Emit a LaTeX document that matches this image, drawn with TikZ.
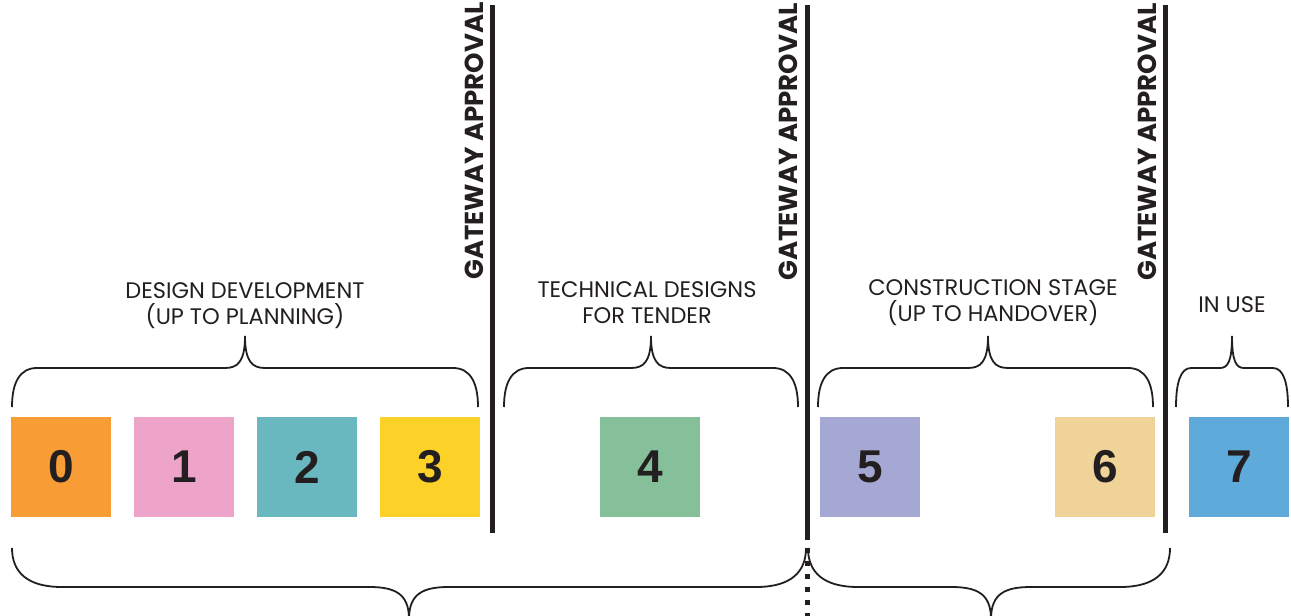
\documentclass[tikz,border=0pt]{standalone}
\usepackage{fontspec}
\newfontfamily\labelfont{Poppins}
\newfontfamily\numfont{Liberation Sans}
\usetikzlibrary{positioning}
\definecolor{inkdark}{HTML}{231F20}
\definecolor{stage0}{HTML}{F89D35}
\definecolor{stage1}{HTML}{EEA3C8}
\definecolor{stage2}{HTML}{69B8BF}
\definecolor{stage3}{HTML}{FDD228}
\definecolor{stage4}{HTML}{85C09A}
\definecolor{stage5}{HTML}{A6A8D4}
\definecolor{stage6}{HTML}{F0D398}
\definecolor{stage7}{HTML}{5DAADB}
\tikzset{
  stagebox/.style = {rectangle, inner sep=0pt, outer sep=0pt, minimum size=100pt, text=inkdark, font=\numfont\bfseries\fontsize{46}{46}\selectfont},
  stagelabel/.style = {align=center, inner sep=0pt, text=inkdark, font=\labelfont\fontsize{22.5}{26}\selectfont},
  gateline/.style = {draw=inkdark, line width=5pt},
  gatedots/.style = {gateline, dash pattern=on 5pt off 8pt},
  gatetext/.style = {rotate=90, anchor=base, inner sep=0pt, text=inkdark, font=\labelfont\bfseries\fontsize{26}{26}\selectfont},
  bracepath/.style = {draw=inkdark, line width=1.8pt},
  pics/phasebrace/.style n args = {4}{code={
    \draw[bracepath] (#1,0) .. controls (#1,24) and (#1+0.3*#4,39) .. (#1+#4,39)
      -- (#2-0.8*#4,39) .. controls (#2-0.3*#4,39) and (#2,45) .. (#2,71)
      .. controls (#2,45) and (#2+0.3*#4,39) .. (#2+0.8*#4,39)
      -- (#3-#4,39) .. controls (#3-0.3*#4,39) and (#3,24) .. (#3,0);
  }},
}

\begin{document}
\begin{tikzpicture}[x=1pt, y=1pt]
\useasboundingbox (0,0) rectangle (1291,616);

% stages
\node [stagebox, fill=stage0] (S0) at (61,149) {0};
\node [stagebox, fill=stage1, right=23pt of S0] (S1) {1};
\node [stagebox, fill=stage2, right=23pt of S1] (S2) {2};
\node [stagebox, fill=stage3, right=23pt of S2] (S3) {3};
\node [stagebox, fill=stage4, right=120pt of S3] (S4) {4};
\node [stagebox, fill=stage5, right=120pt of S4] (S5) {5};
\node [stagebox, fill=stage6, right=135pt of S5] (S6) {6};
\node [stagebox, fill=stage7, right=34pt of S6] (S7) {7};

% gateways
\coordinate (G1top) at (492,611);
\coordinate (G1bot) at (492,83);
\coordinate (G2top) at (807,611);
\coordinate (G2bot) at (807,81);
\coordinate (G2end) at (807,0);
\coordinate (G3top) at (1165,611);
\coordinate (G3bot) at (1165,83);
\draw [gateline] (G1top) -- (G1bot);
\draw [gateline] (G2top) -- (G2bot);
\draw [gatedots] (G2bot) -- (G2end);
\draw [gateline] (G3top) -- (G3bot);
\node [gatetext] (T1) at (483,475) {GATEWAY APPROVAL};
\node [gatetext] (T2) at (797,474) {GATEWAY APPROVAL};
\node [gatetext] (T3) at (1156,474) {GATEWAY APPROVAL};

% top braces and labels
\pic at (0,209) {phasebrace={12}{245}{478}{25}};
\pic at (0,209) {phasebrace={504}{651}{798}{25}};
\pic at (0,209) {phasebrace={818}{988}{1153}{25}};
\pic at (0,209) {phasebrace={1176}{1232}{1288}{15}};
\node [stagelabel] (L0) at (245,310) {DESIGN DEVELOPMENT\\(UP TO PLANNING)};
\node [stagelabel] (L4) at (647,313) {TECHNICAL DESIGNS\\FOR TENDER};
\node [stagelabel] (L5) at (993,313) {CONSTRUCTION STAGE\\(UP TO HANDOVER)};
\node [stagelabel] (L7) at (1232,311) {IN USE};

% bottom braces
\pic [yscale=-1] at (0,68) {phasebrace={12}{409}{806}{50}};
\pic [yscale=-1] at (0,68) {phasebrace={808}{991}{1170}{50}};
\end{tikzpicture}
\end{document}
